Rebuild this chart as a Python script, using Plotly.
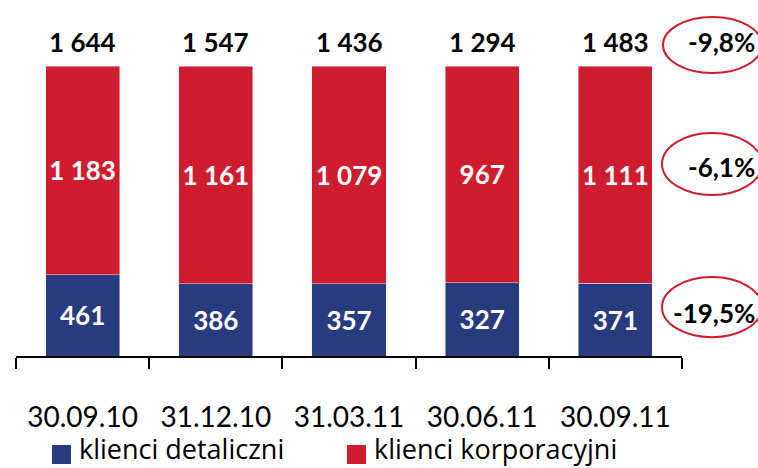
import plotly.graph_objects as go

# Liczba klientów (tys.) w podziale na segmenty
dates = ["30.09.10", "31.12.10", "31.03.11", "30.06.11", "30.09.11"]
retail = [461, 386, 357, 327, 371]
corporate = [1183, 1161, 1079, 967, 1111]
totals = [1644, 1547, 1436, 1294, 1483]

NAVY = "#293B7F"
RED = "#CF1D2F"
NUM_FONT = "Lato"


def fmt(v):
    return f"{v:,}".replace(",", " ")


def pct(new, old):
    return f"{(new / old - 1) * 100:.1f}%".replace(".", ",")


fig = go.Figure()
for name, vals, color in [("klienci detaliczni", retail, NAVY),
                          ("klienci korporacyjni", corporate, RED)]:
    fig.add_bar(
        x=dates, y=vals, name=name, marker_color=color,
        text=[fmt(v) for v in vals], textposition="inside",
        insidetextanchor="middle", textangle=0, constraintext="none",
        insidetextfont=dict(family=NUM_FONT, size=26, color="white", weight="bold"),
        showlegend=False,
    )

annotations = []
# sumy nad słupkami
for d, t in zip(dates, totals):
    annotations.append(dict(
        x=d, y=100, xref="x", yref="y", text=fmt(t), showarrow=False,
        yanchor="middle", yshift=24,
        font=dict(family=NUM_FONT, size=26, color="black", weight="bold"),
    ))

# zmiany r/r w elipsach
changes = [
    (pct(totals[-1], totals[0]), 1.060, 1.083, (0.9715, 0.976, 1.12, 1.169)),
    (pct(corporate[-1], corporate[0]), 1.060, 0.652, (0.970, 0.555, 1.12, 0.769)),
    (pct(retail[-1], retail[0]), 1.048, 0.148, (0.970, 0.065, 1.12, 0.272)),
]
shapes = []
for label, tx, ty, (x0, y0, x1, y1) in changes:
    annotations.append(dict(
        x=tx, y=ty, xref="paper", yref="paper", text=label, showarrow=False,
        xanchor="center", yanchor="middle",
        font=dict(family=NUM_FONT, size=26, color="black", weight="bold"),
    ))
    shapes.append(dict(
        type="circle", xref="paper", yref="paper", x0=x0, y0=y0, x1=x1, y1=y1,
        line=dict(color=RED, width=2), layer="above",
    ))

# legenda (pozycje w pikselach przeliczane na współrzędne papieru)
def px_x(p):
    return (p - 16) / 666


def px_y(p):
    return (356 - p) / 290


legend_items = [("klienci detaliczni", NAVY, 52), ("klienci korporacyjni", RED, 347)]
for name, color, px in legend_items:
    shapes.append(dict(
        type="rect", xref="paper", yref="paper",
        x0=px_x(px), x1=px_x(px + 19),
        y0=px_y(464), y1=px_y(445),
        fillcolor=color, line=dict(width=0),
    ))
    annotations.append(dict(
        x=px_x(px + 25), y=px_y(448), xref="paper", yref="paper",
        text=name, showarrow=False, xanchor="left", yanchor="middle",
        font=dict(family="Open Sans", size=27, color="black"),
    ))

fig.update_layout(
    width=758, height=468,
    margin=dict(l=16, r=76, t=66, b=112),
    barmode="stack", barnorm="percent", bargap=0.444,
    plot_bgcolor="white", paper_bgcolor="white",
    annotations=annotations, shapes=shapes,
    xaxis=dict(
        showline=True, linecolor="black", linewidth=2,
        ticks="outside", tickson="boundaries", ticklen=11, tickwidth=2,
        tickcolor="black", ticklabelstandoff=35,
        tickfont=dict(family="Lato", size=28, color="black"),
        showgrid=False,
    ),
    yaxis=dict(visible=False, range=[0, 100], showgrid=False),
)

fig.write_html("out.html")
